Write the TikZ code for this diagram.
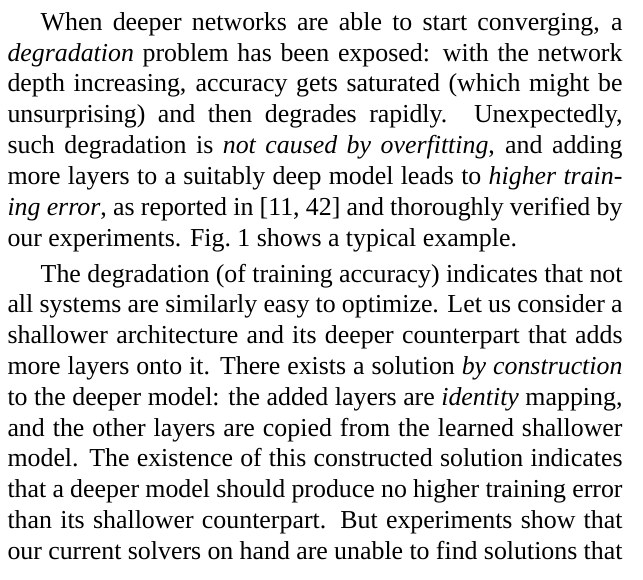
\documentclass[tikz,border=0pt]{standalone}
\usepackage{fontspec}
\setmainfont{Liberation Serif}
\begin{document}
\begin{tikzpicture}[
    bodytext/.style={anchor=north west, inner sep=0pt, text width=246pt, align=justify,
        font=\fontsize{10.35pt}{12.33pt}\selectfont}
  ]

    % page area
    \useasboundingbox[fill=white] (0,0) rectangle (257.2pt,-232pt);

    % column text
    \node[bodytext] (column) at (2.8pt,0) {\parskip=2.08pt
      \spaceskip=0.25em plus 0.3em minus 0.12em
      \noindent\hspace*{13.3pt}\rule{0pt}{11.9pt}When deeper networks are able to start converging, a\linebreak
      \textit{degradation} problem has been exposed: with the network\linebreak
      depth increasing, accuracy gets saturated (which might be\linebreak
      unsurprising) and then degrades rapidly. Unexpectedly,\linebreak
      such degradation is \textit{not caused by overfitting}, and adding\linebreak
      more layers to a suitably deep model leads to \textit{higher train-}\linebreak
      \textit{ing error}, as reported in [11, 42] and thoroughly verified by\linebreak
      our experiments. Fig.~1 shows a typical example.\par
      \noindent\hspace*{13.3pt}The degradation (of training accuracy) indicates that not\linebreak
      all systems are similarly easy to optimize. Let us consider a\linebreak
      shallower architecture and its deeper counterpart that adds\linebreak
      more layers onto it. There exists a solution \textit{by construction}\linebreak
      to the deeper model: the added layers are \textit{identity} mapping,\linebreak
      and the other layers are copied from the learned shallower\linebreak
      model. The existence of this constructed solution indicates\linebreak
      that a deeper model should produce no higher training error\linebreak
      than its shallower counterpart. But experiments show that\linebreak
      our current solvers on hand are unable to find solutions that{\parfillskip=0pt\par}};

\end{tikzpicture}
\end{document}
